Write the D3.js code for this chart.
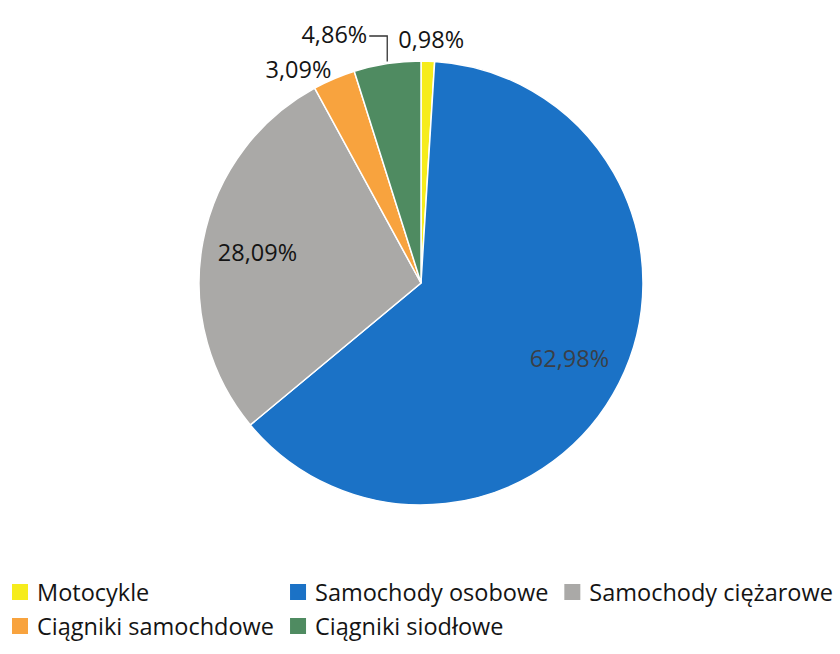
<!DOCTYPE html>
<html>
<head>
<meta charset="utf-8">
<script src="https://cdn.jsdelivr.net/npm/d3@7"></script>
<style>
  html, body { margin: 0; padding: 0; background: #fff; }
  svg { display: block; font-family: "Open Sans", "Noto Sans", sans-serif; }
</style>
</head>
<body>
<svg id="chart" width="840" height="654"></svg>
<script>
const categories = ["Motocykle", "Samochody osobowe", "Samochody ciężarowe", "Ciągniki samochdowe", "Ciągniki siodłowe"];
const values = [0.98, 62.98, 28.09, 3.09, 4.86];
const labels = ["0,98%", "62,98%", "28,09%", "3,09%", "4,86%"];
const colors = ["#f6ec1c", "#1b72c6", "#aaa9a7", "#f8a33e", "#4f8b61"];

const svg = d3.select("#chart");
const cx = 421, cy = 283, R = 222;
const fontSize = 23.5;

const data = categories.map((c, i) => ({ name: c, value: values[i], label: labels[i], color: colors[i] }));

const pie = d3.pie().value(d => d.value).sort(null);
const arcs = pie(data);
const arc = d3.arc().innerRadius(0).outerRadius(R);

const g = svg.append("g").attr("transform", `translate(${cx},${cy})`);
g.selectAll("path.slice").data(arcs).enter().append("path")
  .attr("class", "slice")
  .attr("d", arc)
  .attr("fill", d => d.data.color)
  .attr("stroke", "#fff")
  .attr("stroke-width", 1.5);

// label placement
const inner = d3.arc().innerRadius(R * 0.75).outerRadius(R * 0.75);
arcs.forEach((a, i) => {
  const share = a.data.value;
  const mid = (a.startAngle + a.endAngle) / 2;
  if (share > 10) {
    const [x, y] = inner.centroid(a);
    g.append("text").attr("x", x).attr("y", y)
      .attr("text-anchor", "middle").attr("dominant-baseline", "central")
      .attr("font-size", fontSize)
      .attr("fill", a.data.name === "Samochody osobowe" ? "#3a3f47" : "#141414")
      .text(a.data.label);
  } else if (a.data.name === "Ciągniki siodłowe") {
    // leader line label
    const px = Math.sin(mid) * R, py = -Math.cos(mid) * R;
    const topY = -R - 25;
    const endX = px - 18;
    g.append("path")
      .attr("d", `M${px},${py - 2}L${px},${topY}L${endX},${topY}`)
      .attr("fill", "none").attr("stroke", "#333").attr("stroke-width", 1.3);
    g.append("text").attr("x", endX - 2).attr("y", topY - 2)
      .attr("text-anchor", "end").attr("dominant-baseline", "central")
      .attr("font-size", fontSize).attr("fill", "#141414")
      .text(a.data.label);
  } else {
    const rr = R + 12;
    const px = Math.sin(mid) * rr, py = -Math.cos(mid) * rr;
    const left = Math.sin(mid) < -0.2;
    g.append("text").attr("x", left ? px + 2 : px + 3).attr("y", left ? py + 1 : py - 10)
      .attr("text-anchor", left ? "end" : "middle").attr("dominant-baseline", "central")
      .attr("font-size", fontSize).attr("fill", "#141414")
      .text(a.data.label);
  }
});

// legend: 3 columns grid, widths from measured text
const legend = svg.append("g");
const cols = 3, sw = 16, gapText = 9, gapItem = 16;
const lx0 = 12, rowY = [592, 626];
const measure = legend.append("text").attr("font-size", fontSize).attr("visibility", "hidden");
const widths = categories.map(c => { measure.text(c); return measure.node().getComputedTextLength(); });
measure.remove();
const colW = [];
for (let c = 0; c < cols; c++) {
  let m = 0;
  categories.forEach((cat, i) => { if (i % cols === c) m = Math.max(m, widths[i]); });
  colW.push(sw + gapText + m + gapItem);
}
const colX = [lx0];
for (let c = 1; c < cols; c++) colX.push(colX[c - 1] + colW[c - 1]);

data.forEach((d, i) => {
  const col = i % cols, row = Math.floor(i / cols);
  const x = colX[col], y = rowY[row];
  legend.append("rect").attr("x", x).attr("y", y - sw / 2).attr("width", sw).attr("height", sw).attr("fill", d.color);
  legend.append("text").attr("x", x + sw + gapText).attr("y", y)
    .attr("dominant-baseline", "central").attr("font-size", fontSize).attr("fill", "#141414")
    .text(d.name);
});
</script>
</body>
</html>
